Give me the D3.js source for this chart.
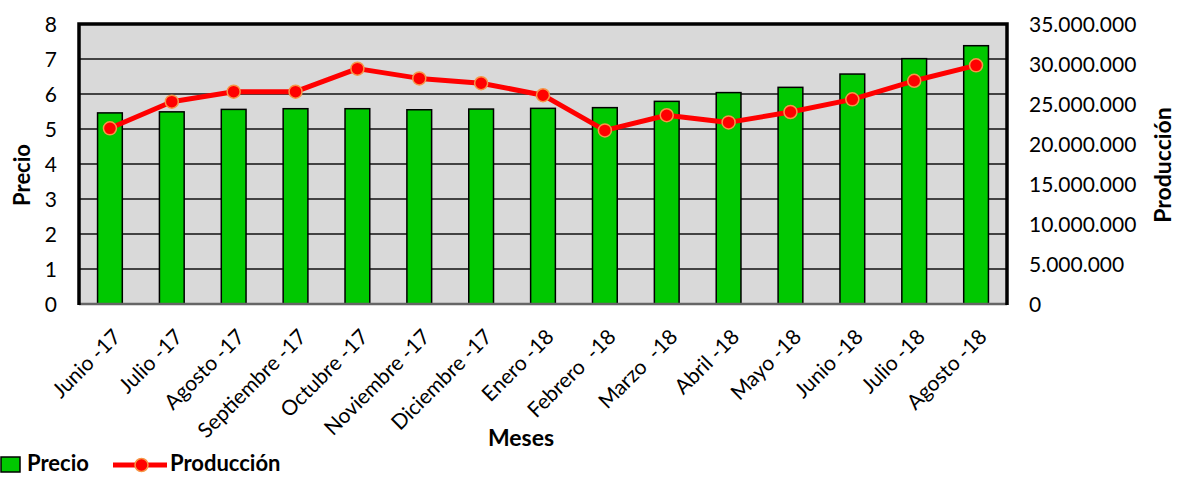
<!DOCTYPE html>
<html>
<head>
<meta charset="utf-8">
<script src="https://cdn.jsdelivr.net/npm/d3@7"></script>
<style>
  body { margin: 0; background: #fff; }
  text { font-family: Lato, "Open Sans", sans-serif; fill: #000; }
</style>
</head>
<body>
<script>
// chart size
var width = 1178;
var height = 477;

var meses = ["Junio -17", "Julio -17", "Agosto -17", "Septiembre -17", "Octubre -17",
  "Noviembre -17", "Diciembre -17", "Enero -18", "Febrero  -18", "Marzo  -18",
  "Abril -18", "Mayo -18", "Junio -18", "Julio -18", "Agosto -18"];

var precio = [5.46, 5.49, 5.56, 5.58, 5.58, 5.55, 5.57, 5.59, 5.61, 5.79, 6.04, 6.19, 6.57, 7.01, 7.38];

var produccion = [21960000, 25290000, 26540000, 26540000, 29420000, 28200000, 27600000,
  26100000, 21700000, 23600000, 22700000, 24000000, 25580000, 27900000, 29830000];

var precioTicks = [0, 1, 2, 3, 4, 5, 6, 7, 8];
var prodTicks = [0, 5000000, 10000000, 15000000, 20000000, 25000000, 30000000, 35000000];

var plot = { left: 79, right: 1007, top: 24, bottom: 304 };

var svg = d3.select("body")
  .append("svg")
  .attr("width", width)
  .attr("height", height);

var x = d3.scaleBand()
  .domain(meses)
  .range([plot.left, plot.right])
  .paddingInner(0.6)
  .paddingOuter(0.3);

var yLeft = d3.scaleLinear().domain([0, 8]).range([plot.bottom, plot.top]);
var yRight = d3.scaleLinear().domain([0, 35000000]).range([plot.bottom, plot.top]);

// plot background
svg.append("rect")
  .attr("x", plot.left)
  .attr("y", plot.top)
  .attr("width", plot.right - plot.left)
  .attr("height", plot.bottom - plot.top)
  .attr("fill", "#d9d9d9");

// grid lines
svg.append("g")
  .selectAll("line")
  .data(precioTicks.slice(1, -1))
  .enter()
  .append("line")
  .attr("x1", plot.left)
  .attr("x2", plot.right)
  .attr("y1", function(d) { return yLeft(d); })
  .attr("y2", function(d) { return yLeft(d); })
  .attr("stroke", "#111")
  .attr("stroke-width", 1.6);

// bars
svg.append("g")
  .selectAll("rect")
  .data(precio)
  .enter()
  .append("rect")
  .attr("x", function(d, i) { return x(meses[i]); })
  .attr("y", function(d) { return yLeft(d); })
  .attr("width", x.bandwidth())
  .attr("height", function(d) { return plot.bottom - yLeft(d); })
  .attr("fill", "#00c800")
  .attr("stroke", "#000")
  .attr("stroke-width", 1.5);

// frame
svg.append("line")
  .attr("x1", plot.left).attr("x2", plot.right)
  .attr("y1", plot.bottom).attr("y2", plot.bottom)
  .attr("stroke", "#666").attr("stroke-width", 2.5);
svg.append("path")
  .attr("d", "M" + plot.left + "," + (plot.bottom + 1) + "V" + plot.top + "H" + plot.right + "V" + (plot.bottom + 1))
  .attr("fill", "none")
  .attr("stroke", "#000")
  .attr("stroke-width", 3.5);

// production line
var line = d3.line()
  .x(function(d, i) { return x(meses[i]) + x.bandwidth() / 2; })
  .y(function(d) { return yRight(d); });

svg.append("path")
  .datum(produccion)
  .attr("d", line)
  .attr("fill", "none")
  .attr("stroke", "#ff0000")
  .attr("stroke-width", 5)
  .attr("stroke-linejoin", "round");

svg.append("g")
  .selectAll("circle")
  .data(produccion)
  .enter()
  .append("circle")
  .attr("cx", function(d, i) { return x(meses[i]) + x.bandwidth() / 2; })
  .attr("cy", function(d) { return yRight(d); })
  .attr("r", 6.5)
  .attr("fill", "#ff0000")
  .attr("stroke", "#f79646")
  .attr("stroke-width", 1.5);

// left axis
var leftAxis = svg.append("g")
  .attr("transform", "translate(" + (plot.left - 22) + ",0)")
  .call(d3.axisLeft(yLeft).tickValues(precioTicks).tickSize(0).tickPadding(0));
leftAxis.select(".domain").remove();
leftAxis.selectAll("text").style("font-size", "21px").attr("font-family", null).attr("dy", "0.36em");

// right axis
var fmt = function(d) { return d3.format(",")(d).replace(/,/g, "."); };
var rightAxis = svg.append("g")
  .attr("transform", "translate(" + (plot.right + 22) + ",0)")
  .call(d3.axisRight(yRight).tickValues(prodTicks).tickFormat(fmt).tickSize(0).tickPadding(0));
rightAxis.select(".domain").remove();
rightAxis.selectAll("text").style("font-size", "21px").attr("font-family", null).attr("dy", "0.36em");

// month labels
svg.append("g")
  .selectAll("text")
  .data(meses)
  .enter()
  .append("text")
  .attr("transform", function(d) {
    return "translate(" + (x(d) + x.bandwidth() / 2 + 1) + "," + (plot.bottom + 23) + ") rotate(-45)";
  })
  .attr("text-anchor", "end")
  .attr("dy", "0.75em")
  .style("font-size", "21px")
  .style("white-space", "pre")
  .text(function(d) { return d; });

// axis titles
svg.append("text")
  .attr("transform", "translate(30,175) rotate(-90)")
  .attr("text-anchor", "middle")
  .style("font-size", "22px")
  .style("font-weight", "bold")
  .text("Precio");

svg.append("text")
  .attr("transform", "translate(1171,165) rotate(-90)")
  .attr("text-anchor", "middle")
  .style("font-size", "23px")
  .style("font-weight", "bold")
  .text("Producción");

svg.append("text")
  .attr("x", 521)
  .attr("y", 446)
  .attr("text-anchor", "middle")
  .style("font-size", "23px")
  .style("font-weight", "bold")
  .text("Meses");

// legend
var legend = svg.append("g");
legend.append("rect")
  .attr("x", 1).attr("y", 457).attr("width", 19).attr("height", 15)
  .attr("fill", "#00c800").attr("stroke", "#000").attr("stroke-width", 1.5);
legend.append("text")
  .attr("x", 27).attr("y", 471)
  .style("font-size", "22px").style("font-weight", "bold")
  .text("Precio");
legend.append("line")
  .attr("x1", 113).attr("x2", 167).attr("y1", 465).attr("y2", 465)
  .attr("stroke", "#ff0000").attr("stroke-width", 5);
legend.append("circle")
  .attr("cx", 141.5).attr("cy", 465).attr("r", 6.5)
  .attr("fill", "#ff0000").attr("stroke", "#f79646").attr("stroke-width", 1.5);
legend.append("text")
  .attr("x", 170).attr("y", 471)
  .style("font-size", "22px").style("font-weight", "bold")
  .text("Producción");
</script>
</body>
</html>
